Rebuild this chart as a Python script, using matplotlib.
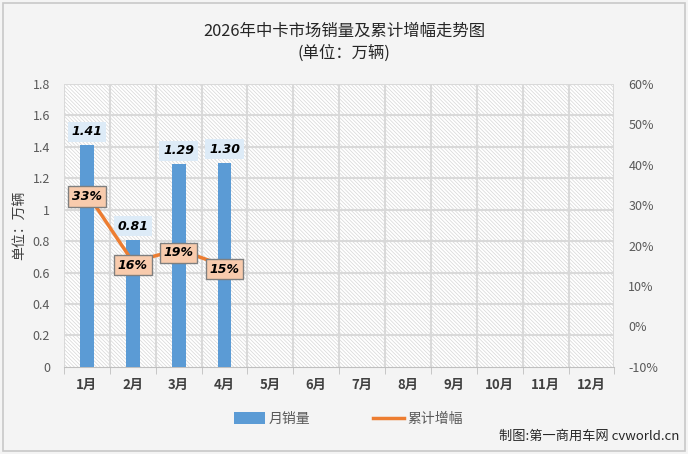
import matplotlib.pyplot as plt
from matplotlib.patches import Rectangle
from matplotlib.lines import Line2D
from matplotlib.patches import Patch

plt.rcParams['font.family'] = ['Noto Sans CJK SC', 'DejaVu Sans']
plt.rcParams['hatch.linewidth'] = 0.5

# 数据
months = ['1月', '2月', '3月', '4月', '5月', '6月', '7月', '8月', '9月', '10月', '11月', '12月']
sales = [1.41, 0.81, 1.29, 1.30]
growth = [33, 16, 19, 15]

fig = plt.figure(figsize=(6.88, 4.54), dpi=100)
fig.patch.set_facecolor('#f4f4f4')
fig.patches.append(Rectangle((0.004, 0.006), 0.992, 0.988, transform=fig.transFigure,
                             fill=False, edgecolor='#c8c8c8', linewidth=1.2))

ax = fig.add_axes([0.093, 0.192, 0.8, 0.623])
ax.set_facecolor('white')
x = list(range(len(months)))
ax.set_xlim(-0.5, len(months) - 0.5)
ax.set_ylim(0, 1.8)

# 斜线填充背景
ax.add_patch(Rectangle((-0.5, 0), len(months), 1.8, facecolor='white', edgecolor='#d6d6d6',
                       linewidth=0, hatch='\\' * 9, zorder=0.5))

for yv in [0.2 * i for i in range(1, 10)]:
    ax.axhline(yv, color='#d9d9d9', linewidth=1.5, zorder=1)
for xv in range(len(months) + 1):
    ax.axvline(xv - 0.5, color='#d9d9d9', linewidth=1.5, zorder=1)

bars = ax.bar(x[:len(sales)], sales, width=0.3, color='#5b9bd5', zorder=3)
for i, v in enumerate(sales):
    ax.text(i, v + 0.085, f'{v:.2f}', ha='center', va='center', fontsize=9,
            fontweight='bold', fontstyle='italic', family='DejaVu Sans', zorder=6,
            bbox=dict(boxstyle='square,pad=0.3', facecolor='#ddebf7', edgecolor='none'))

ax.set_yticks([0.2 * i for i in range(10)])
ax.set_yticklabels(['0', '0.2', '0.4', '0.6', '0.8', '1', '1.2', '1.4', '1.6', '1.8'])
ax.set_xticks(x)
ax.set_xticklabels(months, fontweight='bold', fontsize=9.5, color='#404040')
ax.tick_params(axis='y', length=0, labelsize=9, labelcolor='#595959', pad=10)
ax.set_xticks([i - 0.5 for i in range(len(months) + 1)], minor=True)
ax.tick_params(axis='x', which='minor', length=5, color='#bfbfbf')
ax.tick_params(axis='x', which='major', length=0, pad=8)
for s in ['top', 'right', 'left']:
    ax.spines[s].set_visible(False)
ax.spines['bottom'].set_color('#bfbfbf')
ax.set_ylabel('单位：万辆', fontsize=10, color='#404040', labelpad=4)

ax2 = ax.twinx()
ax2.set_ylim(-10, 60)
ax2.set_yticks(range(-10, 61, 10))
ax2.set_yticklabels([f'{t}%' for t in range(-10, 61, 10)])
ax2.tick_params(axis='y', length=0, labelsize=9, labelcolor='#595959', pad=10)
for s in ax2.spines.values():
    s.set_visible(False)
ax2.plot(x[:len(growth)], growth, color='#ed7d31', linewidth=2.5, zorder=4)
for i, v in enumerate(growth):
    ax2.text(i, v - 0.8, f'{v}%', ha='center', va='center', fontsize=9, fontweight='bold',
             fontstyle='italic', family='DejaVu Sans', zorder=6,
             bbox=dict(boxstyle='square,pad=0.3', facecolor='#f8cbad', edgecolor='#7f7f7f',
                       linewidth=1))

fig.text(0.5, 0.932, '2026年中卡市场销量及累计增幅走势图', ha='center', va='center',
         fontsize=11.8, color='#262626')
fig.text(0.5, 0.883, '(单位：万辆)', ha='center', va='center', fontsize=11.8, color='#262626')

handles = [Patch(facecolor='#5b9bd5', edgecolor='none'),
           Line2D([0], [0], color='#ed7d31', linewidth=2.5)]
fig.legend(handles, ['月销量', '累计增幅'], loc='center', bbox_to_anchor=(0.507, 0.077),
           ncol=2, frameon=False, fontsize=10, columnspacing=4.5, handlelength=2.2,
           handletextpad=0.3, handleheight=0.9, labelcolor='#595959')

fig.text(0.988, 0.038, '制图:第一商用车网 cvworld.cn', ha='right', va='center',
         fontsize=9.5, color='#262626')

fig.savefig('out.png', dpi=100, facecolor=fig.get_facecolor())
